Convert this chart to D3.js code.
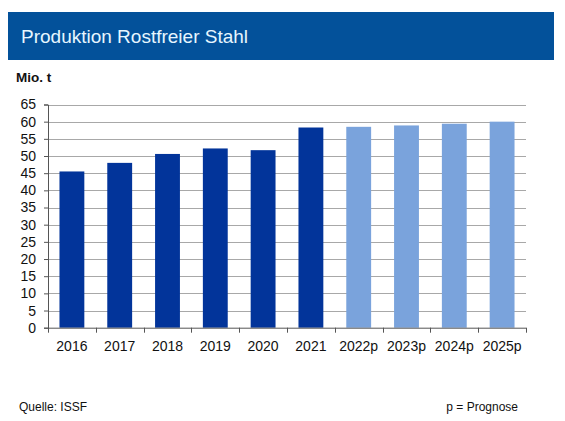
<!DOCTYPE html>
<html><head><meta charset="utf-8">
<script src="https://cdn.jsdelivr.net/npm/d3@7"></script>
<style>body{margin:0;background:#fff;}svg{display:block;font-family:"Liberation Sans",Arial,sans-serif;}</style>
</head><body>
<script>
const categories = ["2016","2017","2018","2019","2020","2021","2022p","2023p","2024p","2025p"];
const values = [45.5, 48.0, 50.6, 52.2, 51.7, 58.3, 58.5, 58.9, 59.4, 60.0];
const forecast = [false,false,false,false,false,false,true,true,true,true];
const yTicks = [0,5,10,15,20,25,30,35,40,45,50,55,60,65];
const title = "Produktion Rostfreier Stahl";
const unit = "Mio. t";
const source = "Quelle: ISSF";
const note = "p = Prognose";

const W = 565, H = 421;
const svg = d3.select("body").append("svg").attr("width", W).attr("height", H);

// title bar
svg.append("rect").attr("x", 8).attr("y", 12).attr("width", 546).attr("height", 48).attr("fill", "#03519a");
svg.append("text").attr("x", 21).attr("y", 43).attr("fill", "#e6f6ff").attr("font-size", 19).text(title);
svg.append("text").attr("x", 16).attr("y", 82).attr("font-size", 13.5).attr("font-weight", "bold").attr("fill", "#111").text(unit);

const m = {left: 48, right: 526, top: 104.5, bottom: 327.7};
const x = d3.scaleBand().domain(categories).range([m.left, m.right]).paddingInner(0.48).paddingOuter(0.24);
const y = d3.scaleLinear().domain([0, 65]).range([m.bottom, m.top]);

// gridlines
svg.append("g").selectAll("line").data(yTicks.filter(d => d > 0)).join("line")
  .attr("x1", m.left).attr("x2", m.right)
  .attr("y1", d => Math.round(y(d)) + 0.5).attr("y2", d => Math.round(y(d)) + 0.5)
  .attr("stroke", "#a8a8a8").attr("stroke-width", 1);

// bars
svg.append("g").selectAll("rect").data(categories).join("rect")
  .attr("x", d => x(d)).attr("width", x.bandwidth())
  .attr("y", (d, i) => y(values[i])).attr("height", (d, i) => y(0) - y(values[i]))
  .attr("fill", (d, i) => forecast[i] ? "#7aa3dc" : "#02349a");

// y axis
const yAxis = svg.append("g").attr("transform", `translate(${m.left},0)`)
  .call(d3.axisLeft(y).tickValues(yTicks).tickSize(4).tickPadding(8));
yAxis.select(".domain").attr("stroke", "#555");
yAxis.selectAll(".tick line").attr("stroke", "#555");
yAxis.selectAll("text").attr("font-size", 14).attr("fill", "#111").attr("font-family", "Liberation Sans, Arial, sans-serif");

// x axis
const xb = d3.scaleLinear().domain([0, categories.length]).range([m.left, m.right]);
const xg = svg.append("g").attr("transform", `translate(0,${m.bottom})`);
xg.append("line").attr("x1", m.left).attr("x2", m.right).attr("y1", 0.5).attr("y2", 0.5).attr("stroke", "#555");
xg.selectAll("line.t").data(d3.range(categories.length + 1)).join("line").attr("class", "t")
  .attr("x1", d => Math.round(xb(d)) + 0.5).attr("x2", d => Math.round(xb(d)) + 0.5)
  .attr("y1", 0).attr("y2", 5).attr("stroke", "#555");
xg.selectAll("text").data(categories).join("text")
  .attr("x", d => x(d) + x.bandwidth() / 2).attr("y", 23)
  .attr("text-anchor", "middle").attr("font-size", 14).attr("fill", "#111").text(d => d);

svg.append("text").attr("x", 19).attr("y", 411).attr("font-size", 12).attr("fill", "#111").text(source);
svg.append("text").attr("x", 518).attr("y", 411).attr("text-anchor", "end").attr("font-size", 12).attr("fill", "#111").text(note);
</script>
</body></html>
